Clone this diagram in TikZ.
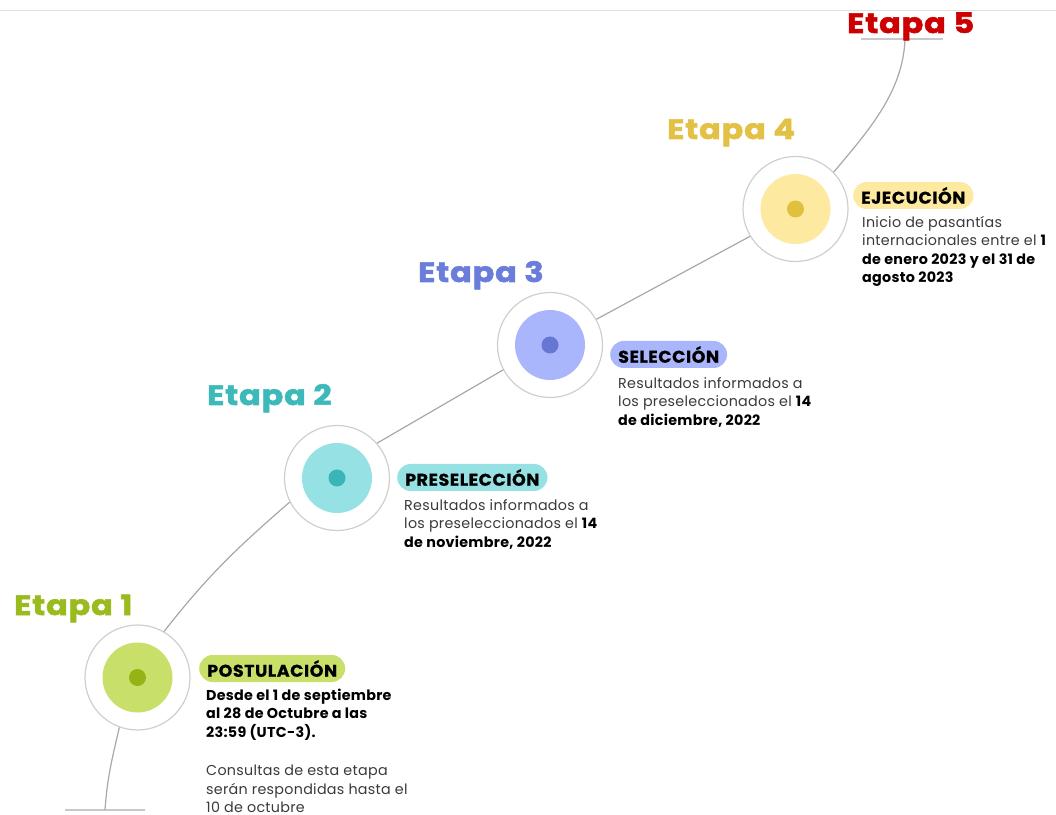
\documentclass[tikz,border=0pt]{standalone}
\usepackage{fontspec}
\setmainfont{Poppins}
\newfontfamily\etapafont{Poppins}[LetterSpace=3,FakeStretch=1.14,FakeBold=2]
\newfontfamily\pillfont{Poppins}[LetterSpace=3,FakeStretch=1.03,FakeBold=0.6]
\newfontfamily\bodyfont{Poppins}[LetterSpace=2]
\definecolor{ringgray}{HTML}{CFCFCF}
\definecolor{linegray}{HTML}{A8A8A8}
\definecolor{rulegray}{HTML}{C8C8C8}
\definecolor{topgray}{HTML}{E0E0E0}
\definecolor{bodygray}{HTML}{3A3A3A}
\definecolor{gA}{HTML}{9ABB1E}\definecolor{gB}{HTML}{C8E06A}\definecolor{gC}{HTML}{95B315}
\definecolor{tA}{HTML}{3DB9B9}\definecolor{tB}{HTML}{96E1E3}\definecolor{tC}{HTML}{3AB5B7}
\definecolor{bA}{HTML}{6B7DDB}\definecolor{bB}{HTML}{AAB6FC}\definecolor{bC}{HTML}{6677D3}
\definecolor{yA}{HTML}{E3C144}\definecolor{yB}{HTML}{FDE9A0}\definecolor{yC}{HTML}{E0C13F}
\definecolor{rA}{HTML}{CC0000}
\newcommand\strongtxt[1]{\textcolor{black}{\bfseries #1}}
\begin{document}
\begin{tikzpicture}[x=1pt,y=1pt,
  ring/.style={circle,draw=ringgray,line width=1.2pt,fill=white,minimum size=105pt,inner sep=0pt},
  core/.style={circle,minimum size=70pt,inner sep=0pt},
  dotc/.style={circle,minimum size=17pt,inner sep=0pt},
  conn/.style={draw=linegray,line width=1.2pt},
  endrule/.style={draw=rulegray,line width=1.5pt},
  etapa/.style={anchor=base west,inner sep=0pt,font=\etapafont\fontsize{28}{30}\selectfont\bfseries},
  pill/.style={anchor=west,rounded corners=13.5pt,minimum height=27pt,inner xsep=8pt,inner ysep=0pt,font=\pillfont\fontsize{17}{18}\selectfont\bfseries,text=black},
  body/.style={anchor=north west,inner sep=0pt,align=left,text=bodygray,font=\bodyfont\fontsize{14.3}{18.5}\selectfont},
]
\useasboundingbox (0,0) rectangle (1056,814);
\draw[draw=topgray,line width=1pt] (0,803) -- (1056,803);

% circles
\node[ring] (c1) at (137.5,136.5) {};
\node[core,fill=gB] (c1i) at (c1) {};
\node[dotc,fill=gC] (c1d) at (c1) {};
\node[ring] (c2) at (337,336) {};
\node[core,fill=tB] (c2i) at (c2) {};
\node[dotc,fill=tC] (c2d) at (c2) {};
\node[ring] (c3) at (550,469) {};
\node[core,fill=bB] (c3i) at (c3) {};
\node[dotc,fill=bC] (c3d) at (c3) {};
\node[ring] (c4) at (795.5,605) {};
\node[core,fill=yB] (c4i) at (c4) {};
\node[dotc,fill=yC] (c4d) at (c4) {};

% end rules
\coordinate (b0) at (105,4);
\coordinate (bL) at (65,4);
\coordinate (bR) at (145,4);
\coordinate (e5) at (905,775);
\coordinate (eL) at (861,775);
\coordinate (eR) at (943,775);
\draw[endrule] (bL) -- (bR);
\draw[endrule] (eL) -- (eR);

% connectors
\draw[conn] (b0) to[out=86,in=257] (c1.250);
\draw[conn] (c1.60) to[out=52,in=221] (c2.207);
\draw[conn] (c2.41) -- (c3.208);
\draw[conn] (c3.29) -- (c4.211);
\draw[conn] (c4.44) to[out=50,in=-92,looseness=0.9] (e5);

% stage titles
\node[etapa,text=gA] (e1) at (14,199) {Etapa 1};
\node[etapa,text=tA] (e2) at (207,409) {Etapa 2};
\node[etapa,text=bA] (e3) at (418,532) {Etapa 3};
\node[etapa,text=yA] (e4) at (667,675) {Etapa 4};
\node[etapa,text=rA] (e5t) at (847,781) {Etapa 5};

% pills
\node[pill,fill=gB] (p1) at (199,145.5) {POSTULACIÓN};
\node[pill,fill=tB] (p2) at (397,336.5) {PRESELECCIÓN};
\node[pill,fill=bB] (p3) at (610,459.5) {SELECCIÓN};
\node[pill,fill=yB] (p4) at (853,618.5) {EJECUCIÓN};

% body texts
\node[body] (t1) at (206,125.5) {\strongtxt{Desde el 1 de septiembre}\\ \strongtxt{al 28 de Octubre a las}\\ \strongtxt{23:59 (UTC-3).}\\[20pt] Consultas de esta etapa\\ serán respondidas hasta el\\ 10 de octubre};
\node[body] (t2) at (404,315) {Resultados informados a\\ los preseleccionados el \strongtxt{14}\\ \strongtxt{de noviembre, 2022}};
\node[body] (t3) at (618,437) {Resultados informados a\\ los preseleccionados el \strongtxt{14}\\ \strongtxt{de diciembre, 2022}};
\node[body] (t4) at (862,598) {Inicio de pasantías\\ internacionales entre el \strongtxt{1}\\ \strongtxt{de enero 2023 y el 31 de}\\ \strongtxt{agosto 2023}};
\end{tikzpicture}
\end{document}
